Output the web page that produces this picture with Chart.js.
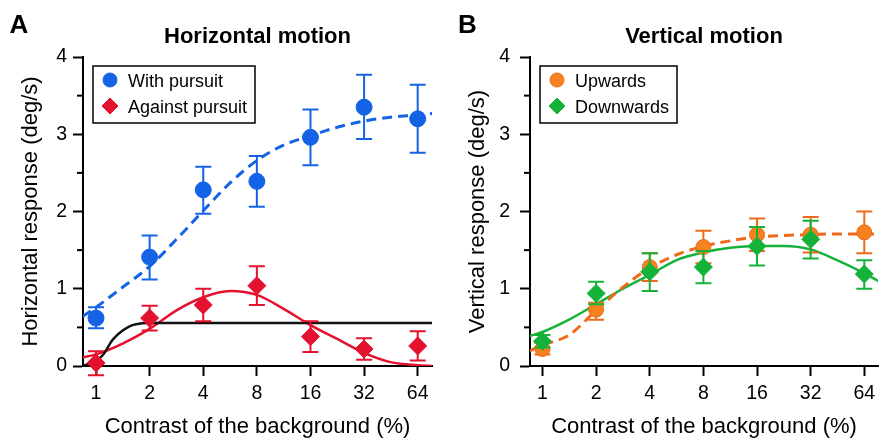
<!DOCTYPE html>
<html>
<head>
<meta charset="utf-8">
<script src="https://cdn.jsdelivr.net/npm/chart.js"></script>
<style>
    html, body { margin: 0; padding: 0; background: #fff; overflow: hidden; }
    #wrap { position: relative; width: 884px; height: 438px; overflow: hidden; }
    canvas { position: absolute; top: 0; }
    #chartA { left: 0; }
    #chartB { left: 442px; }
</style>
</head>
<body>
<div id="wrap">
    <canvas id="chartA" width="442" height="438"></canvas>
    <canvas id="chartB" width="446" height="438"></canvas>
</div>
<script>
/* ========= DATA ========= */
// contrast of the background (%)
var contrast = [1, 2, 4, 8, 16, 32, 64];
var xTicks = [1, 2, 4, 8, 16, 32, 64];
var yMinor = [0.5, 1.5, 2.5, 3.5];

// A - horizontal motion
var withPursuit   = [0.62, 1.41, 2.28, 2.39, 2.96, 3.35, 3.20];
var withPursuitLo = [0.49, 1.12, 1.97, 2.06, 2.60, 2.94, 2.76];
var withPursuitHi = [0.76, 1.69, 2.58, 2.72, 3.32, 3.77, 3.64];
var againstPursuit   = [0.04, 0.62, 0.79, 1.04, 0.38, 0.22, 0.26];
var againstPursuitLo = [-0.12, 0.46, 0.58, 0.79, 0.18, 0.08, 0.07];
var againstPursuitHi = [0.19, 0.78, 1.00, 1.29, 0.58, 0.36, 0.45];

// B - vertical motion
var upwards   = [0.22, 0.73, 1.28, 1.54, 1.70, 1.70, 1.73];
var upwardsLo = [0.15, 0.60, 1.10, 1.33, 1.49, 1.47, 1.46];
var upwardsHi = [0.30, 0.82, 1.46, 1.75, 1.91, 1.93, 2.00];
var downwards   = [0.32, 0.94, 1.22, 1.28, 1.55, 1.64, 1.19];
var downwardsLo = [0.24, 0.80, 0.97, 1.07, 1.30, 1.39, 1.00];
var downwardsHi = [0.40, 1.09, 1.46, 1.49, 1.80, 1.88, 1.37];

// fitted curves
var fitX = [0.84, 1, 1.41, 2, 2.83, 4, 5.66, 8, 11.3, 16, 22.6, 32, 45, 64, 78];
var fitWith    = [0.64, 0.76, 1.02, 1.29, 1.64, 2.01, 2.37, 2.66, 2.86, 2.98, 3.09, 3.17, 3.22, 3.25, 3.27];
var fitAgainst = [0.11, 0.15, 0.29, 0.48, 0.72, 0.89, 0.97, 0.92, 0.74, 0.53, 0.35, 0.17, 0.05, 0.01, 0.0];
var fitUp      = [0.19, 0.27, 0.40, 0.72, 1.02, 1.27, 1.44, 1.55, 1.62, 1.67, 1.69, 1.70, 1.71, 1.71, 1.71];
var fitDown    = [0.385, 0.44, 0.60, 0.80, 1.00, 1.18, 1.37, 1.47, 1.53, 1.555, 1.555, 1.51, 1.37, 1.20, 1.09];
var stepX = [0.84, 1, 1.09, 1.24, 1.41, 1.6, 1.81, 2, 78];
var stepY = [0, 0.07, 0.14, 0.34, 0.46, 0.53, 0.553, 0.557, 0.557];

/* ========= HELPERS ========= */
Chart.defaults.font.family = '"Liberation Sans", Arial, sans-serif';
Chart.defaults.color = '#000';

function pts(xs, ys) {
    return xs.map(function (x, i) { return { x: x, y: ys[i] }; });
}

function curve(xs, ys, color, dash) {
    return {
        data: pts(xs, ys),
        showLine: true,
        borderColor: color,
        borderWidth: dash ? 3 : 2.5,
        borderDash: dash ? [10, 6] : [],
        pointRadius: 0,
        cubicInterpolationMode: 'monotone',
        fill: false,
        order: 10
    };
}

function markers(label, ys, lo, hi, style, r, fill, edge, order) {
    return {
        label: label,
        legend: true,
        data: pts(contrast, ys),
        errLo: lo,
        errHi: hi,
        showLine: false,
        pointStyle: style,
        pointRadius: r,
        pointBackgroundColor: fill,
        pointBorderColor: edge,
        pointBorderWidth: 1,
        clip: false,
        order: order
    };
}

function drawMarker(ctx, style, x, y, r, fill, edge) {
    ctx.beginPath();
    if (style === 'rectRot') {
        ctx.moveTo(x, y - r); ctx.lineTo(x + r, y);
        ctx.lineTo(x, y + r); ctx.lineTo(x - r, y);
        ctx.closePath();
    } else {
        ctx.arc(x, y, r, 0, Math.PI * 2);
    }
    ctx.fillStyle = fill;
    ctx.fill();
    ctx.lineWidth = 1;
    ctx.strokeStyle = edge;
    ctx.stroke();
}

/* ========= PLUGIN: error bars, minor ticks, titles, legend ========= */
var panelDecor = {
    id: 'panelDecor',
    beforeDatasetDraw: function (chart, args) {
        var ds = chart.data.datasets[args.index];
        if (!ds.errLo) return;
        var ctx = chart.ctx, xs = chart.scales.x, ys = chart.scales.y;
        ctx.save();
        ctx.strokeStyle = ds.pointBorderColor;
        ctx.lineWidth = 2;
        ds.data.forEach(function (p, i) {
            var x = xs.getPixelForValue(p.x);
            var y0 = ys.getPixelForValue(ds.errLo[i]);
            var y1 = ys.getPixelForValue(ds.errHi[i]);
            ctx.beginPath();
            ctx.moveTo(x, y0); ctx.lineTo(x, y1);
            ctx.moveTo(x - 8, y0); ctx.lineTo(x + 8, y0);
            ctx.moveTo(x - 8, y1); ctx.lineTo(x + 8, y1);
            ctx.stroke();
        });
        ctx.restore();
    },
    afterDraw: function (chart, args, opts) {
        var ctx = chart.ctx, a = chart.chartArea, ys = chart.scales.y;
        ctx.save();

        // minor y ticks
        ctx.strokeStyle = '#000';
        ctx.lineWidth = 2;
        yMinor.forEach(function (v) {
            var y = ys.getPixelForValue(v);
            ctx.beginPath();
            ctx.moveTo(a.left - 6, y);
            ctx.lineTo(a.left, y);
            ctx.stroke();
        });

        // panel title + letter
        ctx.fillStyle = '#000';
        ctx.textBaseline = 'alphabetic';
        ctx.font = 'bold 22px "Liberation Sans", Arial, sans-serif';
        ctx.textAlign = 'center';
        ctx.fillText(opts.title, (a.left + a.right) / 2, 43);
        ctx.font = 'bold 26px "Liberation Sans", Arial, sans-serif';
        ctx.textAlign = 'left';
        ctx.fillText(opts.letter, opts.letterX, 33);

        // legend box
        var bx = a.left + 10, by = 66;
        ctx.lineWidth = 1.5;
        ctx.strokeStyle = '#000';
        ctx.strokeRect(bx, by, opts.legendW, 57);
        ctx.font = '18px "Liberation Sans", Arial, sans-serif';
        var items = chart.data.datasets.filter(function (d) { return d.legend; });
        items.forEach(function (d, i) {
            var cy = 80 + 26 * i;
            var r = d.pointStyle === 'rectRot' ? 8 : 7;
            drawMarker(ctx, d.pointStyle, bx + 17, cy, r, d.pointBackgroundColor, d.pointBorderColor);
            ctx.fillStyle = '#000';
            ctx.fillText(d.label, bx + 35, cy + 6.5);
        });
        ctx.restore();
    }
};

function makePanel(id, cfg) {
    return new Chart(document.getElementById(id), {
        type: 'scatter',
        data: { datasets: cfg.datasets },
        options: {
            responsive: false,
            animation: false,
            events: [],
            layout: { padding: { top: 57, right: 2, left: 0, bottom: 0 } },
            plugins: {
                legend: { display: false },
                tooltip: { enabled: false },
                panelDecor: { title: cfg.title, letter: cfg.letter, letterX: cfg.letterX, legendW: cfg.legendW }
            },
            scales: {
                x: {
                    type: 'logarithmic',
                    min: cfg.xMin,
                    max: cfg.xMax,
                    afterBuildTicks: function (s) { s.ticks = xTicks.map(function (v) { return { value: v }; }); },
                    afterFit: function (s) { s.height = 72; },
                    ticks: {
                        callback: function (v) { return String(v); },
                        font: { size: 19.5 },
                        padding: 6,
                        maxRotation: 0,
                        autoSkip: false
                    },
                    grid: { drawOnChartArea: false, tickLength: 10, tickWidth: 2, tickColor: '#000' },
                    border: { color: '#000', width: 2 },
                    title: {
                        display: true,
                        text: 'Contrast of the background (%)',
                        font: { size: 22, lineHeight: 1 },
                        padding: { top: 0, bottom: 0 }
                    }
                },
                y: {
                    min: 0,
                    max: 4,
                    afterFit: function (s) { s.width = cfg.yWidth; },
                    ticks: {
                        stepSize: 1,
                        font: { size: 19.5 },
                        padding: cfg.yTickPad
                    },
                    grid: { drawOnChartArea: false, tickLength: 10, tickWidth: 2, tickColor: '#000' },
                    border: { color: '#000', width: 2 },
                    title: {
                        display: true,
                        text: cfg.yTitle,
                        font: { size: 22, lineHeight: 1 },
                        padding: { top: cfg.yTitlePad, bottom: 0 }
                    }
                }
            }
        },
        plugins: [panelDecor]
    });
}

/* ========= PANEL A ========= */
makePanel('chartA', {
    title: 'Horizontal motion',
    letter: 'A',
    letterX: 9.5,
    legendW: 162,
    yTitle: 'Horizontal response (deg/s)',
    yWidth: 83,
    yTickPad: 6,
    yTitlePad: 20,
    xMin: 0.845,
    xMax: 77.0,
    datasets: [
        curve(fitX, fitWith, '#1463e6', true),
        curve(stepX, stepY, '#111111', false),
        curve(fitX, fitAgainst, '#e4112f', false),
        markers('With pursuit', withPursuit, withPursuitLo, withPursuitHi, 'circle', 8, '#1463e6', '#1463e6', 2),
        markers('Against pursuit', againstPursuit, againstPursuitLo, againstPursuitHi, 'rectRot', 9, '#e4112f', '#e4112f', 1)
    ]
});

/* ========= PANEL B ========= */
makePanel('chartB', {
    title: 'Vertical motion',
    letter: 'B',
    letterX: 16,
    legendW: 137,
    yTitle: 'Vertical response (deg/s)',
    yWidth: 88,
    yTickPad: 10,
    yTitlePad: 25,
    xMin: 0.851,
    xMax: 76.4,
    datasets: [
        curve(fitX, fitUp, '#ee6a1a', true),
        curve(fitX, fitDown, '#15b23a', false),
        markers('Upwards', upwards, upwardsLo, upwardsHi, 'circle', 7.5, '#f58220', '#ee6a1a', 2),
        markers('Downwards', downwards, downwardsLo, downwardsHi, 'rectRot', 9, '#15b23a', '#15b23a', 1)
    ]
});
</script>
</body>
</html>
